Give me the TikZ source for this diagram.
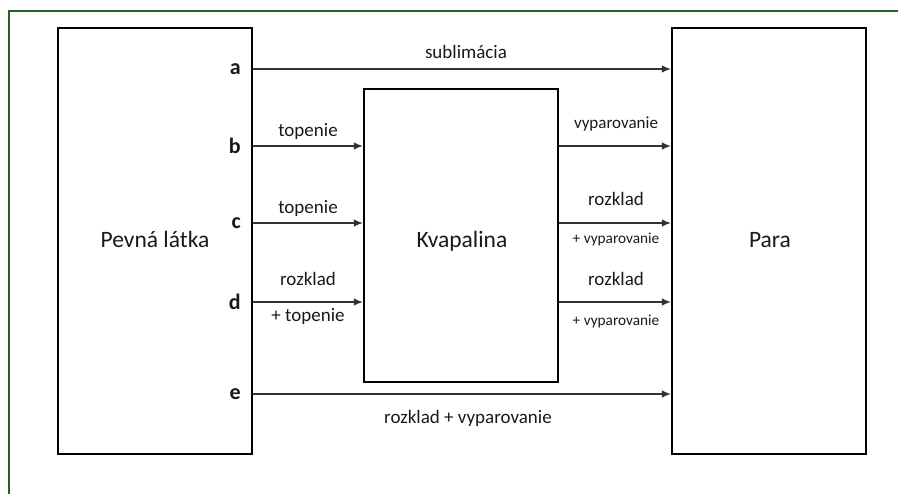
\documentclass[tikz,border=0pt]{standalone}
\usepackage{fontspec}
\setmainfont{Carlito}
\usetikzlibrary{arrows.meta}
\definecolor{framegreen}{RGB}{45,95,45}
\definecolor{arrowgray}{RGB}{50,50,50}
\definecolor{inkblack}{RGB}{25,25,25}
\begin{document}
\begin{tikzpicture}[x=1pt,y=-1pt,
  box/.style={draw=black, line width=2.2pt, inner sep=0pt, minimum width=194pt},
  big/.style={font=\fontsize{23.5}{28}\selectfont, anchor=base, inner sep=0pt, text=inkblack},
  letter/.style={font=\fontsize{22}{26}\selectfont\bfseries, anchor=east, inner sep=0pt, text=inkblack},
  lab/.style={font=\fontsize{19}{22}\selectfont, anchor=base, inner sep=0pt, text=inkblack},
  mlab/.style={font=\fontsize{17}{20}\selectfont, anchor=base, inner sep=0pt, text=inkblack},
  slab/.style={font=\fontsize{15.3}{18}\selectfont, anchor=base, inner sep=0pt, text=inkblack},
  arr/.style={draw=arrowgray, line width=1.3pt, -{Latex[length=9pt,width=7.5pt]}},
  ]
\useasboundingbox (0,0) rectangle (898,494);
\draw[framegreen, line width=2pt] (9,494) -- (9,11) -- (898,11);

% boxes
\node[box, minimum height=426pt] (solid) at (155,241) {};
\node[box, minimum height=293pt] (liquid) at (461,235.5) {};
\node[box, minimum height=426pt] (vapor) at (769,241) {};

% box texts
\node[big] (tsolid) at (155,248) {Pevná látka};
\node[big] (tliquid) at (462,248) {Kvapalina};
\node[big] (tvapor) at (770,248) {Para};

% letters
\node[letter] (a) at (241,69) {a};
\node[letter] (b) at (241,146) {b};
\node[letter] (c) at (241,223) {c};
\node[letter] (d) at (241,302) {d};
\node[letter] (e) at (241,394) {e};

% arrows
\draw[arr] (solid.east |- a) -- (vapor.west |- a);
\draw[arr] (solid.east |- b) -- (liquid.west |- b);
\draw[arr] (solid.east |- c) -- (liquid.west |- c);
\draw[arr] (solid.east |- d) -- (liquid.west |- d);
\draw[arr] (liquid.east |- b) -- (vapor.west |- b);
\draw[arr] (liquid.east |- c) -- (vapor.west |- c);
\draw[arr] (liquid.east |- d) -- (vapor.west |- d);
\draw[arr] (solid.east |- e) -- (vapor.west |- e);

% labels
\node[lab] (lsub) at (466,59) {sublimácia};
\node[lab] (ltop1) at (308,137) {topenie};
\node[lab] (ltop2) at (308,214) {topenie};
\node[lab] (lroz1) at (308,286) {rozklad};
\node[lab] (ltop3) at (308,322) {+ topenie};
\node[mlab] (lvyp1) at (616,129) {vyparovanie};
\node[lab] (lroz2) at (616,206) {rozklad};
\node[slab] (lvyp2) at (616,244) {+ vyparovanie};
\node[lab] (lroz3) at (616,286) {rozklad};
\node[slab] (lvyp3) at (616,326) {+ vyparovanie};
\node[lab] (lbot) at (468,424) {rozklad + vyparovanie};
\end{tikzpicture}
\end{document}
